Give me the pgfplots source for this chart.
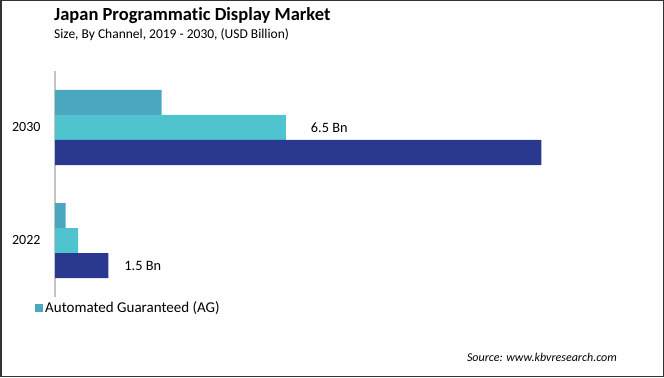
\documentclass[border=0pt]{standalone}
\usepackage{pgfplots}
\pgfplotsset{compat=1.18}
\usepackage{fontspec}
\setmainfont{Carlito}[Ligatures=NoCommon]
\definecolor{agcol}{HTML}{4BA7BF}
\definecolor{pdcol}{HTML}{4FC4CF}
\definecolor{rtcol}{HTML}{2B388F}
\definecolor{framecol}{HTML}{333333}
\definecolor{axcol}{HTML}{C4C4C4}
\begin{document}
\begin{tikzpicture}[x=1bp,y=1bp]
\path[use as bounding box] (0,0) rectangle (664,377);
\draw[framecol,line width=1.5bp] (0.75,0.75) rectangle (663.25,376.25);
\node[anchor=base west,inner sep=0,font=\fontsize{18.5bp}{20bp}\selectfont\bfseries] at (54,357) {Japan Programmatic Display Market};
\node[anchor=base west,inner sep=0,font=\fontsize{13.5bp}{15bp}\selectfont] at (54,339) {Size, By Channel, 2019 - 2030, (USD Billion)};
\node[anchor=base east,inner sep=0,font=\fontsize{12bp}{14bp}\selectfont\itshape] at (617,16) {Source: www.kbvresearch.com};
\begin{axis}[
  at={(55bp,80bp)}, anchor=south west,
  scale only axis, width=545bp, height=226bp,
  xbar, bar width=25bp,
  xmin=0, xmax=15.35, ymin=-0.5, ymax=1.5,
  ytick={0,1}, yticklabels={2022,2030},
  xtick=\empty,
  axis line style={draw=none},
  yticklabel style={font=\fontsize{14bp}{16bp}\selectfont, xshift=-11bp},
  major tick length=0pt,
  clip=false,
  legend style={at={(axis description cs:-0.0367,-0.0487)}, anchor=west, draw=none, fill=none, inner sep=0pt, font=\fontsize{15bp}{17bp}\selectfont},
  legend cell align=left,
  legend image code/.code={\fill[agcol] (0bp,-4bp) rectangle (8bp,4bp);},
]
\draw[axcol,line width=1.2bp] (axis cs:0,-0.5) -- (axis cs:0,1.5);
\addplot[fill=agcol, draw=none, bar shift=25bp] coordinates {(0.3,0) (3.0,1)};
\addlegendentry{Automated Guaranteed (AG)}
\addplot[fill=pdcol, draw=none, bar shift=0bp, forget plot] coordinates {(0.65,0) (6.5,1)};
\addplot[fill=rtcol, draw=none, bar shift=-25bp, forget plot] coordinates {(1.5,0) (13.7,1)};
\node[anchor=west,inner sep=0,font=\fontsize{14.3bp}{16bp}\selectfont] at ([xshift=25bp]axis cs:6.5,1) {6.5 Bn};
\node[anchor=west,inner sep=0,font=\fontsize{14.3bp}{16bp}\selectfont] at ([xshift=16bp,yshift=-25bp]axis cs:1.5,0) {1.5 Bn};
\end{axis}
\end{tikzpicture}
\end{document}
